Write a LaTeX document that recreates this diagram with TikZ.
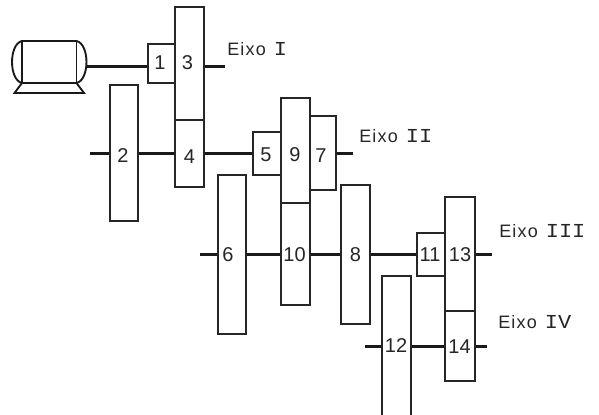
\documentclass[tikz,border=0pt]{standalone}
\usepackage{graphicx}
\usepackage{fontspec}
\setmainfont{Liberation Sans}
\newfontfamily\romanfont{Liberation Mono}
\newcommand{\spacedword}{E\kern0.9pt i\kern0.9pt x\kern0.9pt o}
\newcommand{\romannum}[1]{\scalebox{1.22}[1.1]{\romanfont #1}}
\tikzset{
  gear/.style={draw=black!85, line width=1.25pt, fill=white, inner sep=0pt},
  gearnum/.style={inner sep=0pt, text=black!85, font=\fontsize{15}{17}\selectfont},
  shaft/.style={draw=black!90, line width=1.6pt},
  motorline/.style={draw=black!90, line width=1.4pt},
  eixo/.style={anchor=west, inner sep=0pt, font=\fontsize{13.5}{15}\selectfont, text=black!85}
}
% #1 name, #2-#5 box, #6 #7 position of the number
\newcommand{\gearnode}[7]{%
  \node[gear, minimum width=#4*0.75pt-#2*0.75pt, minimum height=#5*0.75pt-#3*0.75pt] (g#1) at ({(#2+#4)/2},{(#3+#5)/2}) {};
  \node[gearnum] (n#1) at (#6,#7) {#1};}
\begin{document}
\begin{tikzpicture}[x=0.75pt,y=-0.75pt]
\useasboundingbox (0,0) rectangle (599,414);
% free shaft ends
\coordinate (m) at (86,66.5);
\coordinate (e1) at (225,66.5);
\coordinate (w2) at (90,153.5);
\coordinate (e2) at (353,153.5);
\coordinate (w3) at (200,254.5);
\coordinate (e3) at (492,254.5);
\coordinate (w4) at (365,346.5);
\coordinate (e4) at (487,346.5);
\draw[shaft] (m) -- (e1);
\draw[shaft] (w2) -- (e2);
\draw[shaft] (w3) -- (e3);
\draw[shaft] (w4) -- (e4);
\gearnode{3}{175}{7}{204}{120}{187.5}{63}
\gearnode{4}{175}{120}{204}{187}{189.5}{157}
\gearnode{1}{148}{44}{175}{83}{160}{63}
\gearnode{2}{110}{85}{138}{221}{123}{156}
\gearnode{5}{253}{132}{281}{175}{266}{155}
\gearnode{9}{281}{98}{310}{203}{295}{155}
\gearnode{10}{281}{203}{310}{305}{294.5}{255}
\gearnode{7}{310}{116}{336}{190}{321}{156}
\gearnode{6}{218}{175}{246}{334}{228}{254.5}
\gearnode{8}{341}{185}{370}{324}{355.5}{254.5}
\gearnode{11}{417}{233}{445}{276}{430}{255}
\gearnode{13}{445}{197}{475}{311}{460}{255}
\gearnode{14}{445}{311}{475}{381}{459.5}{347}
\gearnode{12}{382}{276}{411}{430}{396}{346}
% motor
\draw[motorline, fill=white] (22,41) rectangle (76.5,83);
\draw[motorline] (22,41) .. controls (8.7,44) and (8.7,80) .. (22,83);
\draw[motorline] (76.5,41) .. controls (89.8,44) and (89.8,80) .. (76.5,83);
\draw[motorline] (22,83) -- (14.5,93) -- (84,93) -- (76.5,83);
% labels
\node[eixo] (l1) at (227,49) {\spacedword\hspace{6pt}\romannum{I}};
\node[eixo] (l2) at (359,136) {\spacedword\hspace{6pt}\romannum{I}\romannum{I}};
\node[eixo] (l3) at (499,231) {\spacedword\hspace{6pt}\romannum{I}\romannum{I}\romannum{I}};
\node[eixo] (l4) at (498,322.5) {\spacedword\hspace{6pt}\romannum{I}\romannum{V}};
\end{tikzpicture}
\end{document}
